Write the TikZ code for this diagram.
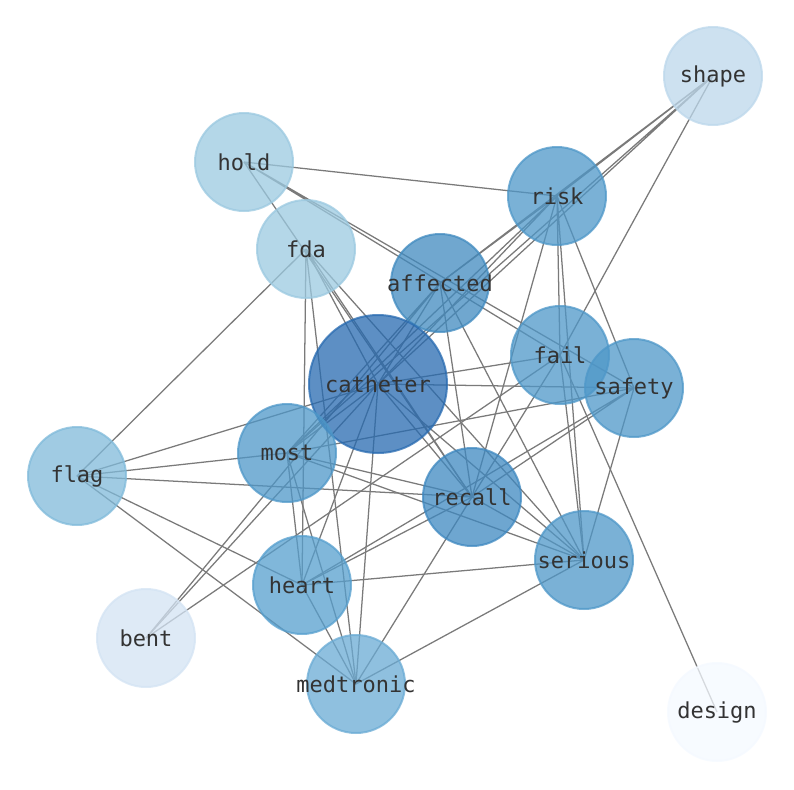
\documentclass[tikz,border=0pt]{standalone}
\usepackage{fontspec}
\setmonofont{DejaVu Sans Mono}
\usetikzlibrary{backgrounds}

% node colours (drawn at 0.75 opacity)
\definecolor{cCatheter}{RGB}{39,106,176}
\definecolor{cAffected}{RGB}{64,138,191}
\definecolor{cRecall}{RGB}{62,136,192}
\definecolor{cMid}{RGB}{78,151,200}
\definecolor{cHeart}{RGB}{86,159,206}
\definecolor{cMedtronic}{RGB}{106,171,212}
\definecolor{cFlag}{RGB}{128,186,218}
\definecolor{cHold}{RGB}{155,201,224}
\definecolor{cShape}{RGB}{188,215,235}
\definecolor{cBent}{RGB}{211,227,243}
\definecolor{cDesign}{RGB}{244,249,255}

\begin{document}
\begin{tikzpicture}[x=0.75pt, y=-0.75pt,
  term/.style={circle, inner sep=0pt, minimum size=73.5pt, line width=1.5pt,
    draw=#1, fill=#1, fill opacity=0.75, draw opacity=0.75},
  big/.style={minimum size=103.5pt},
  every label/.style={font=\ttfamily\fontsize{16.5}{20}\selectfont, text=black!80},
  link/.style={draw=black!52, line width=0.95pt}]

\useasboundingbox (0,0) rectangle (794,790);

% Words
\node[term=cShape, label=center:shape] (shape) at (713,76) {};
\node[term=cHold, label=center:hold] (hold) at (244,162) {};
\node[term=cMid, label=center:risk] (risk) at (557,196) {};
\node[term=cHold, label=center:fda] (fda) at (306,249) {};
\node[term=cAffected, label=center:affected] (affected) at (440,283) {};
\node[term=cCatheter, big, label=center:catheter] (catheter) at (378,384) {};
\node[term=cMid, label=center:fail] (fail) at (560,355) {};
\node[term=cMid, label=center:safety] (safety) at (634,388) {};
\node[term=cMid, label=center:most] (most) at (287,453) {};
\node[term=cFlag, label=center:flag] (flag) at (77,476) {};
\node[term=cRecall, label=center:recall] (recall) at (472,497) {};
\node[term=cMid, label=center:serious] (serious) at (584,560) {};
\node[term=cHeart, label=center:heart] (heart) at (302,585) {};
\node[term=cBent, label=center:bent] (bent) at (146,638) {};
\node[term=cMedtronic, label=center:medtronic] (medtronic) at (356,684) {};
\node[term=cDesign, label=center:design] (design) at (717,712) {};

% Co-occurrence links
\begin{pgfonlayer}{background}
\draw[link] (hold.center) -- (risk.center) (hold.center) -- (fail.center)
  (hold.center) -- (safety.center) (hold.center) -- (recall.center);
\draw[link] (shape.center) -- (risk.center) (shape.center) -- (affected.center)
  (shape.center) -- (catheter.center) (shape.center) -- (most.center)
  (shape.center) -- (fail.center);
\draw[link] (fda.center) -- (flag.center) (fda.center) -- (heart.center)
  (fda.center) -- (medtronic.center) (fda.center) -- (catheter.center)
  (fda.center) -- (recall.center) (fda.center) -- (serious.center);
\draw[link] (risk.center) -- (affected.center) (risk.center) -- (fail.center)
  (risk.center) -- (serious.center) (risk.center) -- (safety.center)
  (risk.center) -- (recall.center) (risk.center) -- (catheter.center)
  (risk.center) -- (most.center);
\draw[link] (affected.center) -- (catheter.center) (affected.center) -- (most.center)
  (affected.center) -- (bent.center) (affected.center) -- (recall.center)
  (affected.center) -- (serious.center);
\draw[link] (catheter.center) -- (flag.center) (catheter.center) -- (most.center)
  (catheter.center) -- (heart.center) (catheter.center) -- (medtronic.center)
  (catheter.center) -- (recall.center) (catheter.center) -- (serious.center)
  (catheter.center) -- (safety.center) (catheter.center) -- (fail.center)
  (catheter.center) -- (bent.center);
\draw[link] (fail.center) -- (bent.center) (fail.center) -- (recall.center)
  (fail.center) -- (serious.center) (fail.center) -- (design.center);
\draw[link] (safety.center) -- (most.center) (safety.center) -- (heart.center)
  (safety.center) -- (recall.center) (safety.center) -- (serious.center);
\draw[link] (most.center) -- (flag.center) (most.center) -- (heart.center)
  (most.center) -- (medtronic.center) (most.center) -- (recall.center)
  (most.center) -- (serious.center);
\draw[link] (flag.center) -- (recall.center) (flag.center) -- (heart.center)
  (flag.center) -- (medtronic.center);
\draw[link] (heart.center) -- (recall.center) (heart.center) -- (serious.center)
  (heart.center) -- (medtronic.center);
\draw[link] (recall.center) -- (serious.center) (recall.center) -- (medtronic.center)
  (serious.center) -- (medtronic.center);
\end{pgfonlayer}

\end{tikzpicture}
\end{document}
